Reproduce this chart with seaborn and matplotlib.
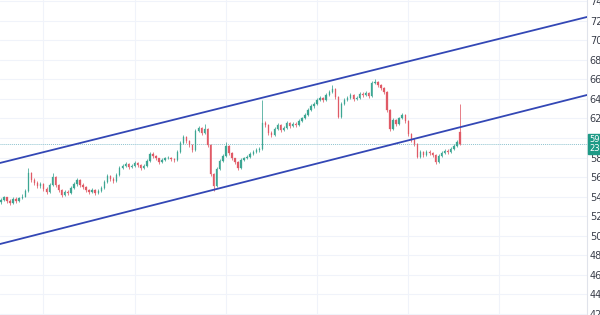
import numpy as np
import pandas as pd
import matplotlib
matplotlib.use("Agg")
import matplotlib.pyplot as plt
import seaborn as sns

# ---- data ----
opens = [53.4, 53.6, 53.9, 53.5, 53.3, 53.7, 53.5, 53.8, 54.0, 54.6,
         56.4, 55.7, 55.4, 55.1, 55.3, 54.8, 54.5, 55.2, 56.0, 55.2,
         54.7, 54.2, 54.5, 54.4, 54.9, 55.3, 55.7, 55.2, 55.0, 54.7,
         54.5, 54.7, 54.4, 54.6, 54.9, 55.5, 56.1, 55.8, 55.6, 56.2,
         56.9, 57.1, 57.3, 57.0, 57.1, 57.4, 57.2, 56.9, 57.1, 57.6,
         58.4, 58.2, 57.9, 57.5, 57.7, 57.9, 58.0, 57.8, 57.7, 58.6,
         59.5, 60.1, 59.7, 59.3, 58.8, 60.7, 61.0, 60.5, 60.9, 59.3,
         56.3, 55.1, 56.8, 57.6, 58.2, 59.2, 58.5, 57.9, 57.5, 56.9,
         57.7, 57.9, 58.1, 58.4, 58.6, 58.8, 58.9, 61.5, 61.3, 60.5,
         60.3, 60.9, 61.3, 60.8, 61.0, 61.5, 61.2, 61.4, 61.3, 61.7,
         62.0, 62.4, 62.9, 63.3, 63.5, 63.9, 64.1, 63.9, 64.4, 64.7,
         65.0, 64.2, 62.2, 63.5, 63.9, 64.1, 64.4, 64.0, 64.1, 64.5,
         64.4, 64.6, 64.3, 65.6, 65.7, 65.4, 65.1, 64.7, 62.9, 60.9,
         61.8, 61.4, 62.0, 62.4, 61.7, 60.4, 59.8, 59.4, 58.1, 58.6,
         58.3, 58.6, 58.5, 58.3, 57.5, 58.2, 58.5, 58.7, 58.6, 58.9,
         59.2, 60.6]
closes = [53.6, 53.9, 53.5, 53.3, 53.7, 53.5, 53.8, 54.0, 54.6, 56.4,
          55.7, 55.4, 55.1, 55.3, 54.8, 54.5, 55.2, 56.0, 55.2, 54.7,
          54.2, 54.5, 54.4, 54.9, 55.3, 55.7, 55.2, 55.0, 54.7, 54.5,
          54.7, 54.4, 54.6, 54.9, 55.5, 56.1, 55.8, 55.6, 56.2, 56.9,
          57.1, 57.3, 57.0, 57.1, 57.4, 57.2, 56.9, 57.1, 57.6, 58.4,
          58.2, 57.9, 57.5, 57.7, 57.9, 58.0, 57.8, 57.7, 58.6, 59.5,
          60.1, 59.7, 59.3, 58.8, 60.7, 61.0, 60.5, 60.9, 59.3, 56.3,
          55.1, 56.8, 57.6, 58.2, 59.2, 58.5, 57.9, 57.5, 56.9, 57.7,
          57.9, 58.1, 58.4, 58.6, 58.8, 58.9, 61.5, 61.3, 60.5, 60.3,
          60.9, 61.3, 60.8, 61.0, 61.5, 61.2, 61.4, 61.3, 61.7, 62.0,
          62.4, 62.9, 63.3, 63.5, 63.9, 64.1, 63.9, 64.4, 64.7, 65.0,
          64.2, 62.2, 63.5, 63.9, 64.1, 64.4, 64.0, 64.1, 64.5, 64.4,
          64.6, 64.3, 65.6, 65.7, 65.4, 65.1, 64.7, 62.9, 60.9, 61.8,
          61.4, 62.0, 62.4, 61.7, 60.4, 59.8, 59.4, 58.1, 58.6, 58.3,
          58.6, 58.5, 58.3, 57.5, 58.2, 58.5, 58.7, 58.6, 58.9, 59.2,
          59.6, 59.4]
highs = [53.8, 54.1, 54.0, 53.7, 53.9, 53.9, 54.0, 54.3, 54.8, 56.9,
         56.5, 55.9, 55.6, 55.5, 55.4, 55.0, 55.4, 56.4, 56.1, 55.3,
         54.8, 54.7, 54.7, 55.1, 55.5, 55.9, 55.8, 55.4, 55.1, 54.8,
         54.9, 54.8, 54.8, 55.1, 55.7, 56.3, 56.2, 56.0, 56.4, 57.1,
         57.3, 57.5, 57.4, 57.3, 57.6, 57.5, 57.3, 57.3, 57.8, 58.6,
         58.6, 58.3, 58.0, 57.9, 58.1, 58.2, 58.1, 57.9, 58.8, 59.7,
         60.3, 60.2, 59.8, 59.4, 60.9, 61.2, 61.1, 61.4, 61.0, 59.4,
         56.4, 57.0, 57.8, 58.4, 59.6, 59.3, 58.6, 58.0, 57.6, 57.9,
         58.1, 58.3, 58.6, 58.8, 59.0, 59.1, 63.9, 61.7, 61.4, 60.7,
         61.1, 61.5, 61.4, 61.2, 61.7, 61.6, 61.6, 61.6, 61.9, 62.2,
         62.6, 63.1, 63.5, 63.7, 64.1, 64.3, 64.2, 64.6, 64.9, 65.4,
         65.1, 64.3, 63.7, 64.1, 64.3, 64.6, 64.5, 64.3, 64.7, 64.7,
         64.8, 64.7, 65.8, 66.0, 65.8, 65.5, 65.2, 64.8, 63.0, 62.0,
         61.9, 62.2, 62.6, 62.5, 61.8, 60.5, 60.0, 59.5, 58.8, 58.7,
         58.8, 58.8, 58.6, 58.4, 58.4, 58.7, 58.9, 58.9, 59.1, 59.4,
         59.8, 63.5]
lows = [53.2, 53.5, 53.3, 53.1, 53.2, 53.3, 53.4, 53.7, 53.9, 54.5,
        55.5, 55.2, 54.9, 54.9, 54.6, 54.3, 54.4, 55.1, 55.0, 54.5,
        54.0, 54.1, 54.2, 54.3, 54.8, 55.1, 55.0, 54.8, 54.5, 54.3,
        54.4, 54.2, 54.3, 54.5, 54.8, 55.4, 55.6, 55.4, 55.5, 56.1,
        56.8, 57.0, 56.8, 56.9, 57.0, 57.0, 56.7, 56.8, 57.0, 57.5,
        58.0, 57.7, 57.3, 57.4, 57.6, 57.8, 57.6, 57.5, 57.6, 58.5,
        59.4, 59.5, 59.1, 58.6, 58.7, 60.6, 60.3, 60.4, 59.1, 56.1,
        54.6, 55.0, 56.7, 57.5, 58.1, 58.3, 57.7, 57.3, 56.7, 56.8,
        57.6, 57.8, 58.0, 58.3, 58.5, 58.6, 58.8, 61.1, 60.3, 60.1,
        60.2, 60.8, 60.6, 60.7, 60.9, 61.0, 61.1, 61.1, 61.2, 61.6,
        61.9, 62.3, 62.8, 63.1, 63.4, 63.8, 63.7, 63.8, 64.3, 64.6,
        64.0, 62.0, 62.1, 63.4, 63.8, 64.0, 63.8, 63.9, 64.0, 64.2,
        64.3, 64.1, 64.2, 65.5, 65.2, 64.9, 64.5, 62.7, 60.7, 60.8,
        61.2, 61.3, 61.9, 61.5, 60.2, 59.6, 59.2, 57.9, 58.0, 58.1,
        58.2, 58.3, 58.1, 57.3, 57.4, 58.1, 58.4, 58.4, 58.5, 58.8,
        59.1, 59.3]

channel_x = [-0.3, 192.8]
channel_upper = [57.44, 72.41]
channel_lower = [49.13, 64.41]
last_price = 59.4
y_ticks = [42, 44, 46, 48, 50, 52, 54, 56, 58, 60, 62, 64, 66, 68, 70, 72, 74]
price_label = "59.40\n23:12"

UP = "#3da693"
DOWN = "#e05a66"
LINE = "#3347b5"

sns.set_theme(style="white")
plt.rcParams['font.family'] = ['DejaVu Sans']

df = pd.DataFrame({"open": opens, "high": highs, "low": lows, "close": closes})
df["idx"] = np.arange(len(df))
df["up"] = df["close"] >= df["open"]
df["bottom"] = df[["open", "close"]].min(axis=1)
df["height"] = (df["close"] - df["open"]).abs().clip(lower=0.05)
colors = np.where(df["up"], UP, DOWN)

fig = plt.figure(figsize=(6.0, 3.15), dpi=100)
ax = fig.add_axes([0, 0, 587 / 600, 1])

# grid
for t in y_ticks:
    ax.axhline(t, color="#f0f3fa", lw=0.8, zorder=0)
for gx in [14, 44, 74, 104, 134, 164]:
    ax.axvline(gx, color="#f0f3fa", lw=0.8, zorder=0)

# candles
ax.vlines(df["idx"], df["low"], df["high"], colors=colors, lw=0.55, zorder=2)
ax.bar(df["idx"], df["height"], bottom=df["bottom"], width=0.45,
       color=colors, edgecolor=colors, linewidth=0.2, zorder=3)

# channel
sns.lineplot(x=channel_x, y=channel_upper, ax=ax, color=LINE, lw=1.3, zorder=4)
sns.lineplot(x=channel_x, y=channel_lower, ax=ax, color=LINE, lw=1.3, zorder=4)

# last price line
ax.axhline(last_price, color="#8ec3cf", lw=0.7, ls=(0, (1, 1)), zorder=1)

ax.set_xlim(channel_x[0], channel_x[1])
ax.set_ylim(41.85, 74.15)
ax.set_xticks([])
ax.yaxis.tick_right()
ax.set_yticks(y_ticks)
ax.set_yticklabels([f"{t:.2f}" for t in y_ticks], fontsize=7, color="#3a3e4a")
ax.tick_params(axis="y", length=0, pad=2)
for s in ["left", "top", "bottom"]:
    ax.spines[s].set_visible(False)
ax.spines["right"].set_color("#e0e3eb")
ax.spines["right"].set_linewidth(0.8)

# price label box on axis
ybox = ax.transData.transform((0, last_price))[1] / 315
fig.patches.append(plt.Rectangle((588 / 600, ybox - 10 / 315), 20 / 600, 20 / 315,
                                 transform=fig.transFigure, color="#1e9a86", zorder=5))
fig.text(589 / 600, ybox, price_label, color="white", fontsize=6.0,
         va="center", ha="left", linespacing=1.0, zorder=6)

fig.savefig("out.png", dpi=100)
